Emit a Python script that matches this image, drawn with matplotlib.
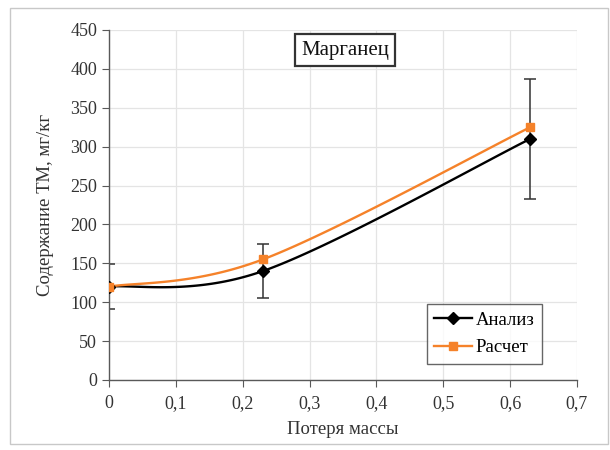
import numpy as np
import matplotlib
matplotlib.use("Agg")
import matplotlib.pyplot as plt
from matplotlib.patches import Rectangle

plt.rcParams['font.family'] = ['Liberation Serif', 'DejaVu Serif']

# Mass loss values and heavy-metal (Mn) content
mass_loss = [0.0, 0.23, 0.63]
analysis = [120, 140, 310]
analysis_err = [29, 35, 77]
calculated = [120, 155, 325]

x_ticks = [0, 0.1, 0.2, 0.3, 0.4, 0.5, 0.6, 0.7]
x_tick_labels = ["0", "0,1", "0,2", "0,3", "0,4", "0,5", "0,6", "0,7"]
y_ticks = list(range(0, 451, 50))

title_text = "Марганец"
x_label = "Потеря массы"
y_label = "Содержание ТМ, мг/кг"
series_names = ["Анализ", "Расчет"]


def smooth_curve(xs, ys, n=60):
    """Catmull-Rom style Bezier smoothing through the given points."""
    pts = np.column_stack([xs, ys]).astype(float)
    ext = np.vstack([pts[0], pts, pts[-1]])
    out = []
    t = np.linspace(0, 1, n)[:, None]
    for i in range(len(pts) - 1):
        p0, p1, p2, p3 = ext[i], ext[i + 1], ext[i + 2], ext[i + 3]
        c1 = p1 + (p2 - p0) / 6.0
        c2 = p2 - (p3 - p1) / 6.0
        seg = ((1 - t) ** 3) * p1 + 3 * ((1 - t) ** 2) * t * c1 \
            + 3 * (1 - t) * t ** 2 * c2 + t ** 3 * p2
        out.append(seg if i == 0 else seg[1:])
    arr = np.vstack(out)
    return arr[:, 0], arr[:, 1]


fig = plt.figure(figsize=(6.1, 4.5), dpi=100)
ax = fig.add_axes([109 / 610, 1 - 380 / 450, (577 - 109) / 610, (380 - 30) / 450])

# outer chart frame
fig.patches.append(Rectangle((10 / 610, 6 / 450), 598 / 610, 436 / 450,
                             transform=fig.transFigure, fill=False,
                             edgecolor='#c8c8c8', linewidth=1.0))

ax.set_xlim(0, 0.7)
ax.set_ylim(0, 450)
ax.set_xticks(x_ticks)
ax.set_xticklabels(x_tick_labels)
ax.set_yticks(y_ticks)
ax.grid(True, color='#e4e4e4', linewidth=0.9)
ax.set_axisbelow(True)
for side in ['top', 'right']:
    ax.spines[side].set_visible(False)
for side in ['left', 'bottom']:
    ax.spines[side].set_color('#595959')
    ax.spines[side].set_linewidth(1.0)
ax.tick_params(axis='both', direction='out', length=5, color='#595959',
               labelsize=13, labelcolor='#333333')
ax.tick_params(axis='x', pad=6)

black = '#000000'
orange = '#f5822a'

xa, ya = smooth_curve(mass_loss, analysis)
ax.plot(xa, ya, color=black, linewidth=1.7, zorder=3)
ax.errorbar(mass_loss, analysis, yerr=analysis_err, fmt='none',
            ecolor='#333333', elinewidth=1.1, capsize=4, capthick=1.1, zorder=2)
ax.plot(mass_loss, analysis, linestyle='none', marker='D', markersize=6,
        color=black, zorder=4)

xc, yc = smooth_curve(mass_loss, calculated)
ax.plot(xc, yc, color=orange, linewidth=1.7, zorder=3)
ax.plot(mass_loss, calculated, linestyle='none', marker='s', markersize=6,
        color=orange, zorder=5)

# legend handles
h1, = ax.plot([], [], color=black, marker='D', markersize=6, linewidth=1.7)
h2, = ax.plot([], [], color=orange, marker='s', markersize=6, linewidth=1.7)
leg = ax.legend([h1, h2], series_names, loc='lower right',
                bbox_to_anchor=(0.945, 0.02), fontsize=13.5, frameon=True,
                fancybox=False, edgecolor='#404040', handlelength=2.0,
                handletextpad=0.2, borderpad=0.4, labelspacing=0.55)
leg.get_frame().set_linewidth(1.0)

ax.text(0.353, 424, title_text, ha='center', va='center', fontsize=15,
        color='#111111',
        bbox=dict(boxstyle='square,pad=0.3', facecolor='white',
                  edgecolor='#333333', linewidth=1.6))

ax.set_xlabel(x_label, fontsize=13.5, color='#333333', labelpad=6)
ax.set_ylabel(y_label, fontsize=13.5, color='#333333', labelpad=12)

fig.savefig('out.png', dpi=100)
